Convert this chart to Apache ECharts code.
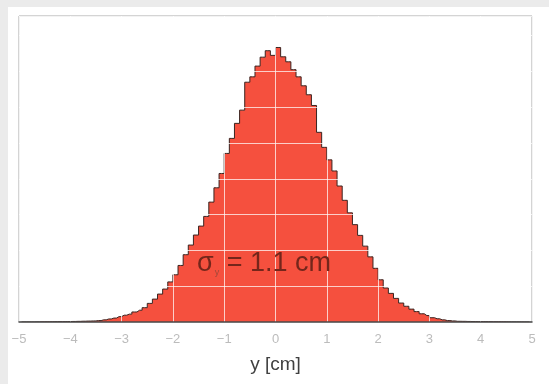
<!DOCTYPE html>
<html>
<head>
<meta charset="utf-8">
<script src="https://cdn.jsdelivr.net/npm/echarts@6/dist/echarts.min.js"></script>
<style>
html,body{margin:0;padding:0;background:#ebebeb;}
#c{width:549px;height:384px;}
</style>
</head>
<body>
<div id="c"></div>
<script>
// bin centres (cm), bin width 0.1
var binCenters = [
-4.95,-4.85,-4.75,-4.65,-4.55,-4.45,-4.35,-4.25,-4.15,-4.05,
-3.95,-3.85,-3.75,-3.65,-3.55,-3.45,-3.35,-3.25,-3.15,-3.05,
-2.95,-2.85,-2.75,-2.65,-2.55,-2.45,-2.35,-2.25,-2.15,-2.05,
-1.95,-1.85,-1.75,-1.65,-1.55,-1.45,-1.35,-1.25,-1.15,-1.05,
-0.95,-0.85,-0.75,-0.65,-0.55,-0.45,-0.35,-0.25,-0.15,-0.05,
0.05,0.15,0.25,0.35,0.45,0.55,0.65,0.75,0.85,0.95,
1.05,1.15,1.25,1.35,1.45,1.55,1.65,1.75,1.85,1.95,
2.05,2.15,2.25,2.35,2.45,2.55,2.65,2.75,2.85,2.95,
3.05,3.15,3.25,3.35,3.45,3.55,3.65,3.75,3.85,3.95,
4.05,4.15,4.25,4.35,4.45,4.55,4.65,4.75,4.85,4.95
];
// entries per bin (arbitrary units, 1 = one horizontal grid step)
var counts = [
0.000,0.000,0.000,0.002,0.004,0.005,0.008,0.010,0.010,0.012,
0.015,0.018,0.022,0.026,0.030,0.040,0.060,0.085,0.110,0.150,
0.190,0.220,0.280,0.330,0.400,0.520,0.640,0.780,0.920,1.120,
1.320,1.580,1.880,2.150,2.430,2.680,2.950,3.350,3.750,4.150,
4.710,5.130,5.550,5.920,6.700,6.850,7.150,7.400,7.580,7.450,
7.670,7.410,7.270,7.050,6.850,6.600,6.350,6.050,5.300,4.880,
4.530,4.220,3.800,3.400,3.050,2.720,2.420,2.120,1.820,1.500,
1.180,0.950,0.800,0.660,0.530,0.440,0.360,0.290,0.230,0.180,
0.120,0.090,0.060,0.040,0.030,0.020,0.018,0.015,0.012,0.010,
0.010,0.008,0.006,0.005,0.004,0.003,0.002,0.001,0.000,0.000
];
var xTicks = [-5,-4,-3,-2,-1,0,1,2,3,4,5];

var data = binCenters.map(function (c, i) { return [c, counts[i]]; });

var chart = echarts.init(document.getElementById('c'));
chart.setOption({
  backgroundColor: '#ebebeb',
  animation: false,
  graphic: [
    { type: 'rect', left: 8, top: 7, z: -10, shape: { width: 541, height: 377 }, style: { fill: '#ffffff' } },
    { type: 'text', left: 197, top: 250, z: 100,
      style: {
        text: '{a|σ}{s|y}{a| = 1.1 cm}',
        rich: {
          a: { fontSize: 27, fontFamily: 'Liberation Sans, Arial, sans-serif', fill: '#74261b' },
          s: { fontSize: 9, fontFamily: 'Liberation Sans, Arial, sans-serif', fill: '#a0483a', verticalAlign: 'bottom', padding: [14, 0, 0, 1] }
        }
      }
    }
  ],
  grid: {
    left: 19, right: 17, top: 16, bottom: 62,
    show: true, borderColor: '#a8a8a8', borderWidth: 1, backgroundColor: '#ffffff'
  },
  xAxis: {
    type: 'value', min: -5, max: 5, interval: 1, z: 5,
    axisLine: { show: true, onZero: false, lineStyle: { color: '#4a4a4a', width: 1.5 } },
    axisTick: { show: false },
    axisLabel: {
      margin: 11, fontSize: 13, color: '#bcbcbc', fontFamily: 'Liberation Sans, Arial, sans-serif',
      showMinLabel: true, showMaxLabel: true,
      formatter: function (v) { return v < 0 ? '\u2212' + Math.abs(v) : String(v); }
    },
    splitLine: { show: true, lineStyle: { color: 'rgba(255,255,255,0.72)', width: 1 } },
    name: 'y [cm]', nameLocation: 'middle', nameGap: 33,
    nameTextStyle: { fontSize: 19, color: '#404040', fontFamily: 'Liberation Sans, Arial, sans-serif' }
  },
  yAxis: {
    type: 'value', min: 0, max: 8.55, interval: 1, z: 5,
    axisLine: { show: false },
    axisTick: { show: false },
    axisLabel: { show: false },
    splitLine: { show: true, lineStyle: { color: 'rgba(255,255,255,0.72)', width: 1 } }
  },
  series: [{
    type: 'line',
    step: 'middle',
    data: data,
    symbol: 'none',
    z: 2,
    lineStyle: { color: '#3a2420', width: 1 },
    areaStyle: { color: '#f5503e', opacity: 1 }
  }]
});
</script>
</body>
</html>
